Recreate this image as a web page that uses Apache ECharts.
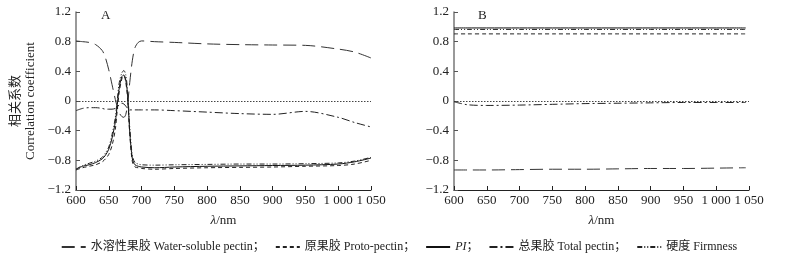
<!DOCTYPE html>
<html>
<head>
<meta charset="utf-8">
<script src="https://cdn.jsdelivr.net/npm/echarts@6/dist/echarts.min.js"></script>
<style>
  html, body { margin: 0; padding: 0; background: #fff; }
  #chart { width: 798px; height: 258px; }
</style>
</head>
<body>
<div id="chart"></div>
<script>
// panel A wavelengths (denser around the 670 nm peak)
const wavelengthsA = [600, 610, 620, 630, 640, 645, 650, 655, 660, 663, 666, 670, 673, 676, 679, 682, 686, 690, 695, 700, 720, 750, 800, 850, 900, 950, 1000, 1025, 1050]
const waterA = [0.81, 0.80, 0.79, 0.76, 0.68, 0.58, 0.42, 0.22, 0.02, -0.08, -0.16, -0.21, -0.22, -0.18, -0.02, 0.25, 0.55, 0.72, 0.79, 0.81, 0.80, 0.79, 0.77, 0.76, 0.755, 0.75, 0.70, 0.66, 0.58]
const protoA = [-0.93, -0.90, -0.88, -0.86, -0.82, -0.78, -0.72, -0.60, -0.38, -0.12, 0.12, 0.30, 0.34, 0.25, 0.00, -0.45, -0.82, -0.89, -0.90, -0.91, -0.92, -0.91, -0.90, -0.895, -0.89, -0.88, -0.87, -0.85, -0.80]
const piA = [-0.92, -0.88, -0.86, -0.83, -0.78, -0.73, -0.65, -0.50, -0.28, -0.05, 0.18, 0.33, 0.35, 0.28, 0.05, -0.42, -0.78, -0.86, -0.88, -0.89, -0.90, -0.89, -0.88, -0.875, -0.87, -0.865, -0.85, -0.82, -0.77]
const totalA = [-0.13, -0.10, -0.09, -0.09, -0.10, -0.11, -0.11, -0.11, -0.10, -0.08, -0.05, -0.03, -0.04, -0.07, -0.10, -0.12, -0.12, -0.12, -0.12, -0.12, -0.12, -0.13, -0.15, -0.17, -0.18, -0.14, -0.22, -0.29, -0.35]
const firmA = [-0.92, -0.87, -0.84, -0.81, -0.76, -0.70, -0.62, -0.45, -0.22, 0.02, 0.25, 0.38, 0.41, 0.35, 0.10, -0.35, -0.74, -0.83, -0.85, -0.86, -0.865, -0.86, -0.855, -0.85, -0.85, -0.845, -0.835, -0.81, -0.76]

// panel B
const wavelengthsB = [600, 620, 650, 700, 750, 800, 850, 900, 950, 1000, 1045]
const waterB = [-0.93, -0.93, -0.93, -0.925, -0.92, -0.92, -0.915, -0.91, -0.91, -0.905, -0.90]
const protoB = [0.905, 0.905, 0.905, 0.905, 0.905, 0.905, 0.905, 0.905, 0.905, 0.905, 0.905]
const piB = [0.985, 0.985, 0.985, 0.985, 0.985, 0.985, 0.985, 0.985, 0.985, 0.985, 0.985]
const totalB = [-0.01, -0.05, -0.06, -0.055, -0.045, -0.035, -0.03, -0.025, -0.02, -0.02, -0.02]
const firmB = [0.965, 0.965, 0.965, 0.965, 0.965, 0.965, 0.965, 0.965, 0.965, 0.965, 0.965]

const xTicks = [600, 650, 700, 750, 800, 850, 900, 950, 1000, 1050]
const yTicks = [-1.2, -0.8, -0.4, 0, 0.4, 0.8, 1.2]
const seriesNames = ['水溶性果胶 Water-soluble pectin', '原果胶 Proto-pectin', 'PI', '总果胶 Total pectin', '硬度 Firmness']

const FONT = '"Liberation Serif", "Noto Sans CJK SC", serif'
const dashes = [[13, 6], [4, 3], 'solid', [8, 3, 2, 3], [5, 2, 1, 2, 1, 2]]
const colors = ['#333', '#222', '#111', '#222', '#222']

const pairs = (xs, ys) => xs.map((x, i) => [x, ys[i]])

function xAxis(idx) {
  return {
    type: 'value', gridIndex: idx, min: xTicks[0], max: xTicks[xTicks.length - 1], interval: 50,
    name: '{i|λ}/nm', nameLocation: 'middle', nameGap: 24,
    nameTextStyle: { fontFamily: FONT, fontSize: 13, color: '#222', rich: { i: { fontStyle: 'italic', fontFamily: FONT, fontSize: 13 } } },
    axisLine: { onZero: false, lineStyle: { color: '#222', width: 1 } },
    axisTick: { inside: true, length: 4, lineStyle: { color: '#222' } },
    axisLabel: { fontFamily: FONT, fontSize: 13, color: '#222', margin: 4,
      formatter: v => v >= 1000 ? String(v).replace(/^(\d)(\d{3})$/, '$1 $2') : String(v) },
    splitLine: { show: false }
  }
}

function yAxis(idx, withName) {
  return {
    type: 'value', gridIndex: idx, min: yTicks[0], max: yTicks[yTicks.length - 1], interval: 0.4,
    name: withName ? '相关系数\nCorrelation coefficient' : '',
    nameLocation: 'middle', nameRotate: 90, nameGap: 38,
    nameTextStyle: { fontFamily: FONT, fontSize: 13, color: '#222', lineHeight: 15 },
    axisLine: { show: true, onZero: false, lineStyle: { color: '#777', width: 1.5 } },
    axisTick: { show: true, inside: true, length: 4, lineStyle: { color: '#555' } },
    axisLabel: { fontFamily: FONT, fontSize: 13, color: '#222', margin: 5,
      formatter: v => {
        const r = Math.round(v * 10) / 10
        return r === 0 ? '0' : (r < 0 ? '−' + (-r).toFixed(1) : r.toFixed(1))
      } },
    splitLine: { show: false }
  }
}

function makeSeries(idx, xs, arrays) {
  return arrays.map((arr, k) => ({
    name: seriesNames[k],
    type: 'line',
    xAxisIndex: idx, yAxisIndex: idx,
    data: pairs(xs, arr),
    symbol: 'none',
    smooth: 0.3,
    lineStyle: { color: colors[k], width: 1, type: dashes[k] },
    itemStyle: { color: colors[k] },
    markLine: k === 2 ? {
      silent: true, symbol: 'none', label: { show: false },
      lineStyle: { color: '#444', width: 1, type: [1.5, 1.5] },
      data: [{ yAxis: 0 }]
    } : undefined,
    z: 2 + k
  }))
}

const chart = echarts.init(document.getElementById('chart'), null, { renderer: 'canvas' })
chart.setOption({
  animation: false,
  backgroundColor: '#fff',
  textStyle: { fontFamily: FONT },
  title: [
    { text: 'A', left: 96, top: 4, textStyle: { fontFamily: FONT, fontSize: 13, fontWeight: 'normal', color: '#222' } },
    { text: 'B', left: 473, top: 4, textStyle: { fontFamily: FONT, fontSize: 13, fontWeight: 'normal', color: '#222' } }
  ],
  grid: [
    { left: 76, top: 12, width: 295, height: 178 },
    { left: 454, top: 12, width: 295, height: 178 }
  ],
  xAxis: [xAxis(0), xAxis(1)],
  yAxis: [yAxis(0, true), yAxis(1, false)],
  legend: {
    data: seriesNames,
    left: 'center', top: 236,
    itemWidth: 24, itemHeight: 8, itemGap: 10,
    itemStyle: { opacity: 0 },
    textStyle: { fontFamily: FONT, fontSize: 12, color: '#222', rich: { i: { fontStyle: 'italic', fontFamily: FONT, fontSize: 12 } } },
    formatter: name => {
      const label = name === 'PI' ? '{i|PI}' : name
      return name === '硬度 Firmness' ? label : label + '；'
    }
  },
  series: [
    ...makeSeries(0, wavelengthsA, [waterA, protoA, piA, totalA, firmA]),
    ...makeSeries(1, wavelengthsB, [waterB, protoB, piB, totalB, firmB])
  ]
})
</script>
</body>
</html>
